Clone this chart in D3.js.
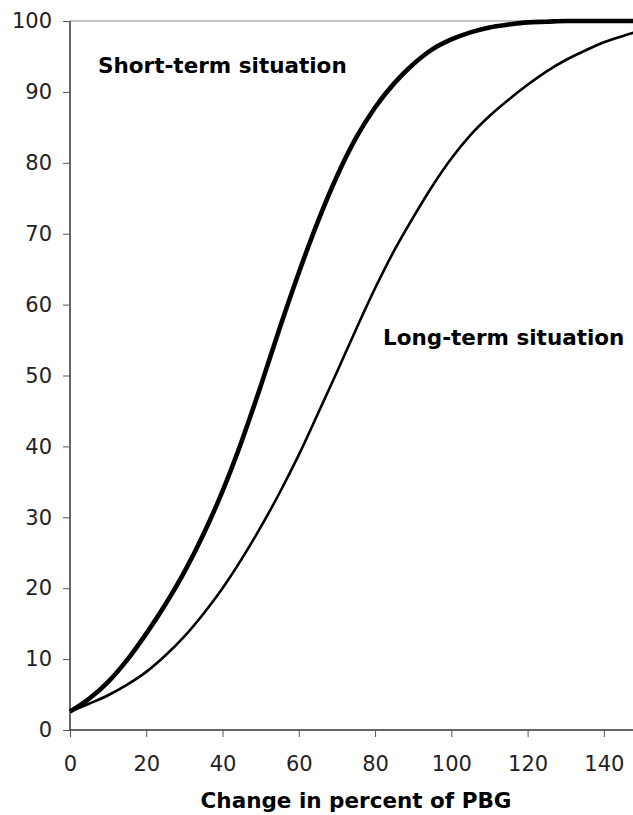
<!DOCTYPE html>
<html>
<head>
<script src="https://cdnjs.cloudflare.com/ajax/libs/d3/7.8.5/d3.min.js"></script>
<style>
  body { margin: 0; background: #fff; }
  text { font-family: "DejaVu Sans", Verdana, sans-serif; }
</style>
</head>
<body>
<div id="chart"></div>
<script>
// values
const xs        = [0, 5, 10, 15, 20, 25, 30, 35, 40, 45, 50, 55, 60, 65, 70, 75, 80, 85, 90, 95, 100, 105, 110, 115, 120, 125, 130, 135, 140, 145, 150];
const shortTerm = [2.6, 4.4, 6.8, 9.9, 13.6, 17.7, 22.3, 27.6, 33.7, 40.7, 48.5, 56.7, 64.5, 71.7, 78.1, 83.5, 87.8, 91.2, 93.9, 96.0, 97.4, 98.4, 99.1, 99.5, 99.8, 99.9, 100, 100, 100, 100, 100];
const longTerm  = [2.6, 3.7, 4.9, 6.4, 8.2, 10.5, 13.2, 16.4, 20.0, 24.1, 28.6, 33.5, 38.8, 44.6, 50.5, 56.5, 62.3, 67.6, 72.3, 76.7, 80.6, 83.9, 86.6, 88.9, 91.0, 92.9, 94.5, 95.8, 97.0, 97.9, 98.7];
const xTicks = [0, 20, 40, 60, 80, 100, 120, 140];
const yTicks = [0, 10, 20, 30, 40, 50, 60, 70, 80, 90, 100];

const width = 633, height = 815;
const svg = d3.select('#chart').append('svg')
  .attr('width', width)
  .attr('height', height);

const x = d3.scaleLinear().domain([0, 150]).range([70, 642]);
const y = d3.scaleLinear().domain([0, 100]).range([730, 21]);

// plot-area top border
svg.append('line')
  .attr('x1', x(0)).attr('x2', x(150))
  .attr('y1', y(100)).attr('y2', y(100))
  .attr('stroke', '#8a8a8a').attr('stroke-width', 1.2);

const yAxis = svg.append('g')
  .attr('transform', `translate(${x(0)},0)`)
  .call(d3.axisLeft(y).tickValues(yTicks).tickSize(7).tickPadding(11));

const xAxis = svg.append('g')
  .attr('transform', `translate(0,${y(0)})`)
  .call(d3.axisBottom(x).tickValues(xTicks).tickSize(7).tickPadding(19));

[xAxis, yAxis].forEach(g => {
  g.select('.domain').attr('stroke', '#333').attr('stroke-width', 1.5);
  g.selectAll('.tick line').attr('stroke', '#555').attr('stroke-width', 1);
  g.selectAll('.tick text')
    .attr('fill', '#222')
    .style('font-size', '21px')
    .style('font-family', '"DejaVu Sans", Verdana, sans-serif');
});
xAxis.select('.domain').attr('d', `M${x(0)},0H${x(150)}`);
yAxis.select('.domain').attr('d', `M0,${y(0)}V${y(100)}`);

const line = vals => d3.line()
  .x((d, i) => x(xs[i]))
  .y(d => y(d))
  .curve(d3.curveMonotoneX)(vals);

svg.append('path')
  .attr('d', line(longTerm))
  .attr('fill', 'none')
  .attr('stroke', '#000')
  .attr('stroke-width', 2.6);

svg.append('path')
  .attr('d', line(shortTerm))
  .attr('fill', 'none')
  .attr('stroke', '#000')
  .attr('stroke-width', 4.6);

svg.append('text')
  .attr('x', 98).attr('y', 73)
  .style('font-size', '21.5px').style('font-weight', 'bold')
  .text('Short-term situation');

svg.append('text')
  .attr('x', 383).attr('y', 345)
  .style('font-size', '21.5px').style('font-weight', 'bold')
  .text('Long-term situation');

svg.append('text')
  .attr('x', x(75)).attr('y', 808)
  .attr('text-anchor', 'middle')
  .style('font-size', '21.5px').style('font-weight', 'bold')
  .text('Change in percent of PBG');
</script>
</body>
</html>
